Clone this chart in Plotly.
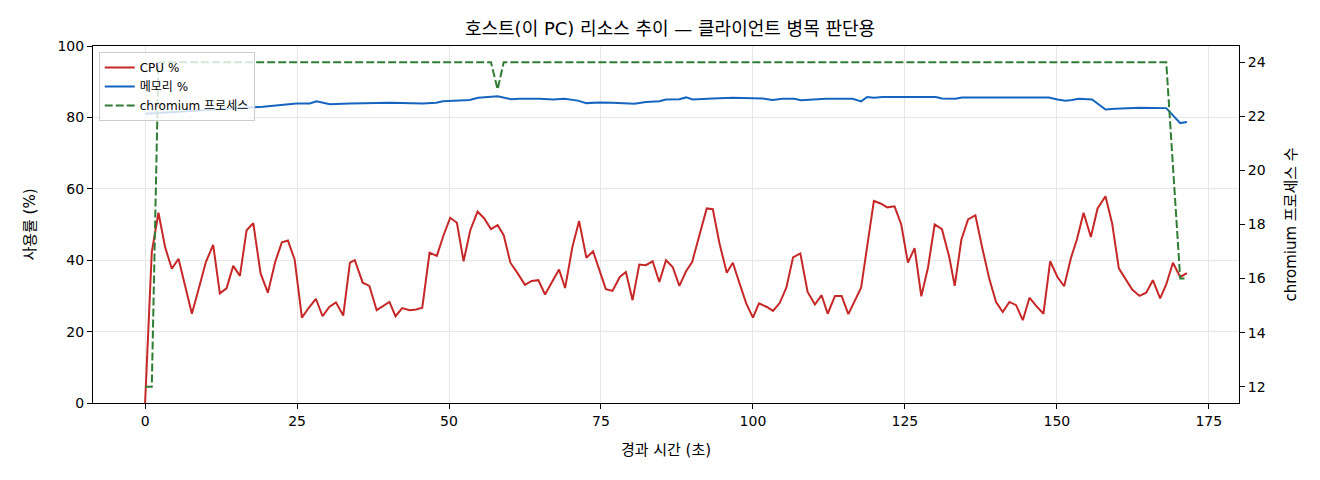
import plotly.graph_objects as go

# CPU 사용률 (초, %)
cpu_t = [0.0, 1.1, 2.2, 3.3, 4.4, 5.5, 6.6, 7.7, 8.9, 10.0, 11.2, 12.3, 13.4, 14.5, 15.6, 16.7, 17.8, 19.0,
         20.2, 21.4, 22.5, 23.5, 24.6, 25.8, 26.9, 28.1, 29.2, 30.3, 31.4, 32.6, 33.7, 34.5, 35.8, 36.9,
         38.1, 39.2, 40.2, 41.2, 42.3, 43.5, 44.6, 45.6, 46.8, 48.0, 49.1, 50.2, 51.3, 52.4, 53.5, 54.7,
         55.8, 56.9, 58.0, 59.0, 60.1, 61.3, 62.5, 63.6, 64.7, 65.8, 66.9, 68.1, 69.1, 70.3, 71.4, 72.6,
         73.7, 74.8, 75.8, 76.9, 78.1, 79.1, 80.2, 81.3, 82.4, 83.5, 84.6, 85.7, 86.8, 87.9, 89.0, 90.0,
         91.4, 92.4, 93.4, 94.5, 95.7, 96.7, 97.8, 98.9, 100.0, 101.0, 102.3, 103.3, 104.4, 105.5, 106.6,
         107.8, 109.0, 110.2, 111.3, 112.3, 113.5, 114.6, 115.7, 116.8, 117.8, 119.9, 121.0, 122.1, 123.3,
         124.4, 125.5, 126.6, 127.7, 128.8, 129.9, 131.1, 132.3, 133.2, 134.3, 135.4, 136.6, 137.7, 138.9,
         140.0, 141.1, 142.2, 143.3, 144.4, 145.5, 146.6, 147.8, 148.9, 150.1, 151.2, 152.3, 153.3, 154.4,
         155.6, 156.7, 158.0, 159.1, 160.2, 161.3, 162.4, 163.6, 164.7, 165.8, 167.0, 168.0, 169.1, 170.3,
         171.4]
cpu_v = [0.0, 42.3, 53.3, 43.6, 37.6, 40.4, 32.7, 25.0, 32.5, 39.5, 44.3, 30.7, 32.1, 38.4, 35.6, 48.4, 50.4, 36.3,
         30.9, 39.5, 45.0, 45.5, 40.2, 23.9, 26.6, 29.2, 24.3, 26.9, 28.2, 24.5, 39.3, 40.0, 33.7, 32.8,
         26.0, 27.1, 28.3, 24.3, 26.6, 26.0, 26.2, 26.7, 42.1, 41.2, 47.0, 51.9, 50.5, 39.7, 48.4, 53.6,
         51.7, 48.7, 49.8, 47.0, 39.3, 36.3, 33.1, 34.2, 34.4, 30.4, 33.7, 37.4, 32.2, 43.7, 51.0, 40.7,
         42.5, 37.2, 31.9, 31.4, 35.3, 36.7, 28.8, 38.8, 38.6, 39.7, 33.9, 40.0, 38.1, 32.8, 36.9, 39.5,
         48.4, 54.5, 54.3, 44.7, 36.5, 39.3, 33.5, 27.9, 23.9, 27.9, 26.9, 25.8, 28.0, 32.3, 40.8,
         41.9, 31.1, 27.6, 30.2, 25.0, 30.0, 30.0, 24.9, 28.8, 32.3, 56.6, 55.9, 54.8, 55.1,
         50.0, 39.3, 43.4, 29.9, 37.9, 50.0, 48.7, 40.9, 32.8, 45.8, 51.4, 52.6, 43.7, 34.7,
         28.3, 25.5, 28.3, 27.4, 23.2, 29.5, 27.2, 25.0, 39.7, 35.3, 32.7, 40.5, 45.8, 53.3,
         46.5, 54.5, 57.9, 50.3, 37.7, 34.6, 31.8, 30.0, 30.9, 34.4, 29.3, 33.2, 39.3, 35.3,
         36.4]

# 메모리 사용률 (초, %)
mem_t = [0.0, 19.4, 24.9, 27.1, 28.2, 30.4, 33.7, 40.3, 45.7, 47.9, 49.0, 51.2, 53.4, 54.8, 56.1, 58.0,
         60.2, 61.6, 64.9, 67.1, 69.0, 71.2, 72.6, 74.8, 76.9, 80.5, 82.4, 84.6, 85.7, 87.9, 89.0, 90.1,
         93.4, 96.7, 101.6, 103.2, 104.9, 106.8, 107.9, 109.8, 112.0, 116.4, 117.8, 118.8, 119.9, 121.3,
         130.1, 131.1, 133.3, 134.4, 137.7, 143.2, 148.7, 150.1, 151.4, 152.5, 153.6, 155.8, 158.0, 159.6,
         162.4, 163.7, 168.0, 170.3, 171.4]
mem_v = [81.0, 83.0, 83.9, 83.9, 84.5, 83.7, 83.9, 84.1, 83.9, 84.1, 84.5, 84.6, 84.9, 85.5, 85.7, 85.9,
         85.1, 85.2, 85.2, 85.0, 85.2, 84.7, 84.0, 84.2, 84.1, 83.8, 84.3, 84.5, 85.0, 85.1, 85.6, 85.0,
         85.3, 85.5, 85.3, 84.9, 85.2, 85.2, 84.8, 85.0, 85.2, 85.2, 84.5, 85.7, 85.5, 85.7,
         85.7, 85.3, 85.2, 85.6, 85.6, 85.6, 85.6, 85.0, 84.7, 84.9, 85.2, 85.0, 82.2, 82.4,
         82.5, 82.7, 82.6, 78.4, 78.7]

# chromium 프로세스 수
proc_t = [0.0, 1.1, 2.2, 56.9, 58.0, 59.0, 168.0, 170.3, 171.4]
proc_v = [12, 12, 24, 24, 23, 24, 24, 16, 16]

# 라틴 문자는 DejaVu, 한글은 Noto CJK로
FONT = "DejaVu Sans, Noto Sans CJK KR"

fig = go.Figure()
fig.add_trace(go.Scatter(x=cpu_t, y=cpu_v, mode="lines", name="CPU %",
                         line=dict(color="#c62828", width=2)))
fig.add_trace(go.Scatter(x=mem_t, y=mem_v, mode="lines", name="메모리 %",
                         line=dict(color="#1565c0", width=2)))
fig.add_trace(go.Scatter(x=proc_t, y=proc_v, mode="lines", name="chromium 프로세스", yaxis="y2",
                         line=dict(color="#2e7d32", width=2, dash="8px,3px")))

ax = dict(showline=True, linecolor="black", linewidth=1, mirror=True, ticks="outside",
          ticklen=5, tickcolor="black", tickfont=dict(size=14, color="black"), zeroline=False)

# 페이지 기본 여백(8px)을 감안해 크기를 조금 줄임
fig.update_layout(
    width=1312, height=472,
    margin=dict(l=85, r=81, t=38, b=77),
    plot_bgcolor="white", paper_bgcolor="white",
    font=dict(family=FONT, color="black"),
    title=dict(text="호스트(이 PC) 리소스 추이 — 클라이언트 병목 판단용", x=0.5046, xanchor="center",
               y=0.956, yanchor="middle", font=dict(size=18)),
    xaxis=dict(range=[-8.57, 179.97], tickvals=[0, 25, 50, 75, 100, 125, 150, 175],
               showgrid=True, gridcolor="#e6e6e6", gridwidth=1,
               title=dict(text="경과 시간 (초)", font=dict(size=15), standoff=16), **ax),
    yaxis=dict(range=[0, 100], dtick=20, showgrid=True, gridcolor="#e6e6e6", gridwidth=1,
               title=dict(text="사용률 (%)", font=dict(size=15), standoff=18), **ax),
    yaxis2=dict(range=[11.4, 24.6], dtick=2, overlaying="y", side="right", showgrid=False,
                title=dict(text="chromium 프로세스 수", font=dict(size=15), standoff=20), **ax),
    legend=dict(x=0.005, y=0.983, xanchor="left", yanchor="top",
                bgcolor="rgba(255,255,255,0.8)", bordercolor="#cccccc", borderwidth=1,
                font=dict(size=12), tracegroupgap=0, itemwidth=30),
    showlegend=True,
)

fig.write_html("out.html")
